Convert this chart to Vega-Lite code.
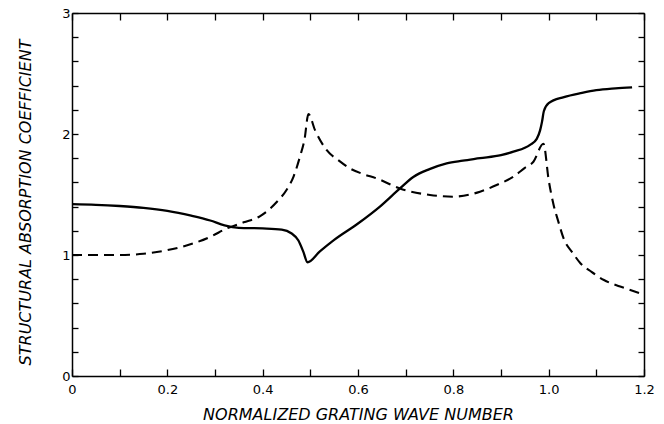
{
  "$schema": "https://vega.github.io/schema/vega-lite/v6.json",
  "width": 572,
  "height": 363,
  "autosize": {"type": "none"},
  "padding": {"left": 72, "top": 13, "right": 20, "bottom": 48},
  "background": "white",
  "config": {
    "view": {"stroke": null},
    "axis": {
      "grid": false,
      "domainColor": "black",
      "domainWidth": 1.5,
      "tickColor": "black",
      "tickWidth": 1.3,
      "labelColor": "black",
      "titleColor": "black",
      "labelFont": "DejaVu Sans",
      "titleFont": "DejaVu Sans",
      "labelFontSize": 13,
      "titleFontSize": 16,
      "titleFontStyle": "italic",
      "titleFontWeight": "normal"
    }
  },
  "data": {
    "values": [
      {"x": 0, "y": 1.42, "curve": "solid"},
      {"x": 0.05, "y": 1.415, "curve": "solid"},
      {"x": 0.1, "y": 1.405, "curve": "solid"},
      {"x": 0.15, "y": 1.39, "curve": "solid"},
      {"x": 0.2, "y": 1.365, "curve": "solid"},
      {"x": 0.25, "y": 1.325, "curve": "solid"},
      {"x": 0.29, "y": 1.285, "curve": "solid"},
      {"x": 0.32, "y": 1.245, "curve": "solid"},
      {"x": 0.35, "y": 1.225, "curve": "solid"},
      {"x": 0.4, "y": 1.22, "curve": "solid"},
      {"x": 0.44, "y": 1.21, "curve": "solid"},
      {"x": 0.46, "y": 1.18, "curve": "solid"},
      {"x": 0.475, "y": 1.12, "curve": "solid"},
      {"x": 0.485, "y": 1.03, "curve": "solid"},
      {"x": 0.494, "y": 0.94, "curve": "solid"},
      {"x": 0.52, "y": 1.03, "curve": "solid"},
      {"x": 0.55, "y": 1.125, "curve": "solid"},
      {"x": 0.6, "y": 1.26, "curve": "solid"},
      {"x": 0.646, "y": 1.4, "curve": "solid"},
      {"x": 0.688, "y": 1.55, "curve": "solid"},
      {"x": 0.716, "y": 1.645, "curve": "solid"},
      {"x": 0.75, "y": 1.71, "curve": "solid"},
      {"x": 0.786, "y": 1.758, "curve": "solid"},
      {"x": 0.82, "y": 1.78, "curve": "solid"},
      {"x": 0.856, "y": 1.8, "curve": "solid"},
      {"x": 0.9, "y": 1.825, "curve": "solid"},
      {"x": 0.926, "y": 1.854, "curve": "solid"},
      {"x": 0.961, "y": 1.91, "curve": "solid"},
      {"x": 0.975, "y": 1.96, "curve": "solid"},
      {"x": 0.982, "y": 2.03, "curve": "solid"},
      {"x": 0.986, "y": 2.1, "curve": "solid"},
      {"x": 0.99, "y": 2.19, "curve": "solid"},
      {"x": 1.0, "y": 2.255, "curve": "solid"},
      {"x": 1.032, "y": 2.305, "curve": "solid"},
      {"x": 1.07, "y": 2.34, "curve": "solid"},
      {"x": 1.1, "y": 2.362, "curve": "solid"},
      {"x": 1.14, "y": 2.377, "curve": "solid"},
      {"x": 1.175, "y": 2.386, "curve": "solid"},
      {"x": 0, "y": 1.0, "curve": "dashed"},
      {"x": 0.05, "y": 1.0, "curve": "dashed"},
      {"x": 0.1, "y": 1.0, "curve": "dashed"},
      {"x": 0.15, "y": 1.01, "curve": "dashed"},
      {"x": 0.2, "y": 1.04, "curve": "dashed"},
      {"x": 0.25, "y": 1.09, "curve": "dashed"},
      {"x": 0.29, "y": 1.15, "curve": "dashed"},
      {"x": 0.325, "y": 1.22, "curve": "dashed"},
      {"x": 0.36, "y": 1.27, "curve": "dashed"},
      {"x": 0.394, "y": 1.32, "curve": "dashed"},
      {"x": 0.43, "y": 1.44, "curve": "dashed"},
      {"x": 0.45, "y": 1.537, "curve": "dashed"},
      {"x": 0.465, "y": 1.65, "curve": "dashed"},
      {"x": 0.478, "y": 1.81, "curve": "dashed"},
      {"x": 0.488, "y": 1.96, "curve": "dashed"},
      {"x": 0.496, "y": 2.165, "curve": "dashed"},
      {"x": 0.51, "y": 2.03, "curve": "dashed"},
      {"x": 0.534, "y": 1.868, "curve": "dashed"},
      {"x": 0.56, "y": 1.78, "curve": "dashed"},
      {"x": 0.583, "y": 1.716, "curve": "dashed"},
      {"x": 0.61, "y": 1.67, "curve": "dashed"},
      {"x": 0.639, "y": 1.633, "curve": "dashed"},
      {"x": 0.688, "y": 1.55, "curve": "dashed"},
      {"x": 0.751, "y": 1.496, "curve": "dashed"},
      {"x": 0.8, "y": 1.482, "curve": "dashed"},
      {"x": 0.856, "y": 1.523, "curve": "dashed"},
      {"x": 0.892, "y": 1.58, "curve": "dashed"},
      {"x": 0.926, "y": 1.647, "curve": "dashed"},
      {"x": 0.95, "y": 1.72, "curve": "dashed"},
      {"x": 0.968, "y": 1.771, "curve": "dashed"},
      {"x": 0.989, "y": 1.92, "curve": "dashed"},
      {"x": 1.0, "y": 1.62, "curve": "dashed"},
      {"x": 1.01, "y": 1.42, "curve": "dashed"},
      {"x": 1.02, "y": 1.28, "curve": "dashed"},
      {"x": 1.032, "y": 1.13, "curve": "dashed"},
      {"x": 1.05, "y": 1.02, "curve": "dashed"},
      {"x": 1.067, "y": 0.93, "curve": "dashed"},
      {"x": 1.09, "y": 0.86, "curve": "dashed"},
      {"x": 1.116, "y": 0.793, "curve": "dashed"},
      {"x": 1.15, "y": 0.74, "curve": "dashed"},
      {"x": 1.192, "y": 0.683, "curve": "dashed"}
    ]
  },
  "layer": [
    {
      "transform": [{"filter": "datum.curve == 'solid'"}],
      "mark": {"type": "line", "color": "black", "strokeWidth": 2.3, "interpolate": "monotone", "clip": true},
      "encoding": {
        "x": {
          "field": "x", "type": "quantitative",
          "scale": {"domain": [0, 1.2], "nice": false, "zero": false},
          "axis": {
            "orient": "bottom",
            "values": [0, 0.1, 0.2, 0.3, 0.4, 0.5, 0.6, 0.7, 0.8, 0.9, 1.0, 1.1, 1.2],
            "tickSize": -7,
            "labelPadding": 14,
            "labelExpr": "round(datum.value*10) % 2 == 0 ? (datum.value == 0 ? '0' : format(datum.value, '.1f')) : ''",
            "labelFlush": false,
            "labelOverlap": false,
            "title": "NORMALIZED GRATING WAVE NUMBER",
            "titlePadding": 10
          }
        },
        "y": {
          "field": "y", "type": "quantitative",
          "scale": {"domain": [0, 3], "nice": false, "zero": false},
          "axis": {
            "orient": "left",
            "values": [0, 0.2, 0.4, 0.6, 0.8, 1, 1.2, 1.4, 1.6, 1.8, 2, 2.2, 2.4, 2.6, 2.8, 3],
            "tickSize": -6,
            "labelPadding": 8,
            "labelExpr": "abs(datum.value - round(datum.value)) < 0.001 ? format(datum.value, 'd') : ''",
            "labelFlush": false,
            "labelOverlap": false,
            "title": "STRUCTURAL ABSORPTION COEFFICIENT",
            "titlePadding": 28,
            "titleY": 189
          }
        }
      }
    },
    {
      "transform": [{"filter": "datum.curve == 'dashed'"}],
      "mark": {"type": "line", "color": "black", "strokeWidth": 2.1, "strokeDash": [10, 6], "interpolate": "monotone", "clip": true},
      "encoding": {
        "x": {
          "field": "x", "type": "quantitative",
          "scale": {"domain": [0, 1.2], "nice": false, "zero": false},
          "axis": {
            "orient": "top",
            "values": [0, 0.1, 0.2, 0.3, 0.4, 0.5, 0.6, 0.7, 0.8, 0.9, 1.0, 1.1, 1.2],
            "tickSize": -7,
            "labels": false,
            "title": null
          }
        },
        "y": {
          "field": "y", "type": "quantitative",
          "scale": {"domain": [0, 3], "nice": false, "zero": false},
          "axis": {
            "orient": "right",
            "values": [0, 0.2, 0.4, 0.6, 0.8, 1, 1.2, 1.4, 1.6, 1.8, 2, 2.2, 2.4, 2.6, 2.8, 3],
            "tickSize": -6,
            "labels": false,
            "title": null
          }
        }
      }
    }
  ],
  "resolve": {"axis": {"x": "independent", "y": "independent"}}
}
